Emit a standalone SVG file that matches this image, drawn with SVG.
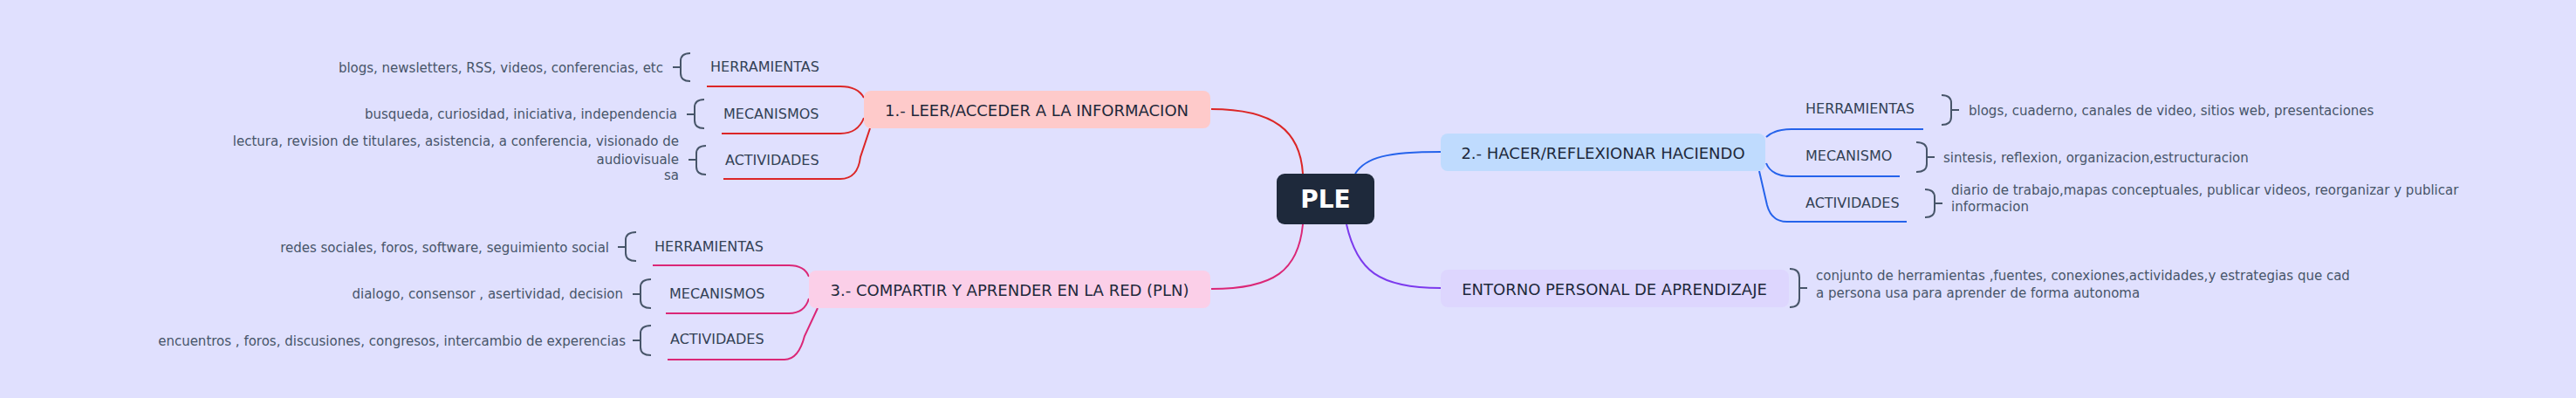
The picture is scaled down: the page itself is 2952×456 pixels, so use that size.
<svg xmlns="http://www.w3.org/2000/svg" width="2952" height="456" viewBox="0 0 2952 456">
<style>
text{font-family:"DejaVu Sans","Liberation Sans",sans-serif;dominant-baseline:central}
.m{font-size:18px;fill:#1e293b;text-anchor:middle}
.c{font-size:16px;fill:#334155}
.d{font-size:15px;fill:#475569}
.r{text-anchor:end}
.br{fill:none;stroke:#475569;stroke-width:2}
.ln{fill:none;stroke-width:2}
</style>
<rect width="2952" height="456" fill="#e0e0fe"/>
<g id="connectors">
<path class="ln" stroke="#dc2626" stroke-width="3" d="M1388,125 C1460,125 1490,150 1493,199"/>
<path class="ln" stroke="#db2777" stroke-width="3" d="M1388,331 C1460,331 1488,310 1493,257"/>
<path class="ln" stroke="#2563eb" stroke-width="3" d="M1553,199 C1565,180 1590,174 1651,174"/>
<path class="ln" stroke="#7c3aed" stroke-width="3" d="M1543,257 C1555,310 1580,330 1651,330"/>
<g stroke="#dc2626">
<path class="ln" d="M810,99 H963 Q983,99 990,112"/>
<path class="ln" d="M827,153 H963 Q983,153 990,135"/>
<path class="ln" d="M829,205 H963 Q983,205 986,180 L997,147"/>
</g>
<g stroke="#db2777">
<path class="ln" d="M748,304 H904 Q922,304 927,317"/>
<path class="ln" d="M763,359 H904 Q922,359 927,342"/>
<path class="ln" d="M765,412 H899 Q915,412 922,385 L937,353"/>
</g>
<g stroke="#2563eb">
<path class="ln" d="M2024,157 Q2034,148 2053,148 H2204"/>
<path class="ln" d="M2024,187 Q2030,202 2053,202 H2177"/>
<path class="ln" d="M2016,196 L2025,235 Q2030,254 2048,254 H2185"/>
</g>
<g class="br">
<path d="M791,61 Q780,61 780,70 V84 Q780,93 791,93 M780,77 H771"/>
<path d="M807,114 Q796,114 796,123 V138 Q796,147 807,147 M796,131 H787"/>
<path d="M809,167 Q798,167 798,176 V191 Q798,200 809,200 M798,183 H789"/>
<path d="M729,266 Q717,266 717,275 V290 Q717,299 729,299 M717,283 H708"/>
<path d="M746,320 Q734,320 734,329 V344 Q734,353 746,353 M734,337 H725"/>
<path d="M746,373 Q734,373 734,382 V398 Q734,407 746,407 M734,390 H725"/>
<path d="M2225,109 Q2236,109 2236,118 V134 Q2236,143 2225,143 M2236,126 H2245"/>
<path d="M2196,163 Q2208,163 2208,172 V188 Q2208,197 2196,197 M2208,180 H2217"/>
<path d="M2206,217 Q2217,217 2217,226 V240 Q2217,249 2206,249 M2217,233 H2226"/>
<path d="M2051,308 Q2062,308 2062,318 V342 Q2062,352 2051,352 M2062,330 H2071"/>
</g>
</g>
<g id="ple"><rect x="1463" y="199" width="112" height="58" rx="9" fill="#1e293b"/><text x="1519" y="228" style="font-size:28px;font-weight:bold;fill:#fff;text-anchor:middle">PLE</text></g>
<g id="n1"><rect x="990" y="104" width="397" height="43" rx="8" fill="#fecaca"/><text class="m" x="1188" y="126">1.- LEER/ACCEDER A LA INFORMACION</text></g>
<g id="n3"><rect x="927" y="310" width="460" height="43" rx="8" fill="#fbcfe8"/><text class="m" x="1157" y="332">3.- COMPARTIR Y APRENDER EN LA RED (PLN)</text></g>
<g id="n2"><rect x="1651" y="153" width="372" height="43" rx="8" fill="#bfdbfe"/><text class="m" x="1837" y="175">2.- HACER/REFLEXIONAR HACIENDO</text></g>
<g id="n4"><rect x="1651" y="309" width="399" height="43" rx="8" fill="#ddd6fe"/><text class="m" x="1850" y="331">ENTORNO PERSONAL DE APRENDIZAJE</text></g>
<g id="n1c">
<text class="c" x="814" y="76">HERRAMIENTAS</text>
<text class="c" x="829" y="130">MECANISMOS</text>
<text class="c" x="831" y="183">ACTIVIDADES</text>
<text class="d r" x="760" y="78">blogs, newsletters, RSS, videos, conferencias, etc</text>
<text class="d r" x="776" y="131">busqueda, curiosidad, iniciativa, independencia</text>
<text class="d r" x="778" y="162">lectura, revision de titulares, asistencia, a conferencia, visionado de</text>
<text class="d r" x="778" y="183">audiovisuale</text>
<text class="d r" x="778" y="201">sa</text>
</g>
<g id="n3c">
<text class="c" x="750" y="282">HERRAMIENTAS</text>
<text class="c" x="767" y="336">MECANISMOS</text>
<text class="c" x="768" y="388">ACTIVIDADES</text>
<text class="d r" x="698" y="284">redes sociales, foros, software, seguimiento social</text>
<text class="d r" x="714" y="337">dialogo, consensor , asertividad, decision</text>
<text class="d r" x="717" y="391">encuentros , foros, discusiones, congresos, intercambio de experencias</text>
</g>
<g id="n2c">
<text class="c" x="2069" y="124">HERRAMIENTAS</text>
<text class="c" x="2069" y="178">MECANISMO</text>
<text class="c" x="2069" y="232">ACTIVIDADES</text>
<text class="d" x="2256" y="127">blogs, cuaderno, canales de video, sitios web, presentaciones</text>
<text class="d" x="2227" y="181">sintesis, reflexion, organizacion,estructuracion</text>
<text class="d" x="2236" y="218">diario de trabajo,mapas conceptuales, publicar videos, reorganizar y publicar</text>
<text class="d" x="2236" y="237">informacion</text>
</g>
<g id="n4c">
<text class="d" x="2081" y="316">conjunto de herramientas ,fuentes, conexiones,actividades,y estrategias que cad</text>
<text class="d" x="2081" y="336">a persona usa para aprender de forma autonoma</text>
</g>
</svg>
